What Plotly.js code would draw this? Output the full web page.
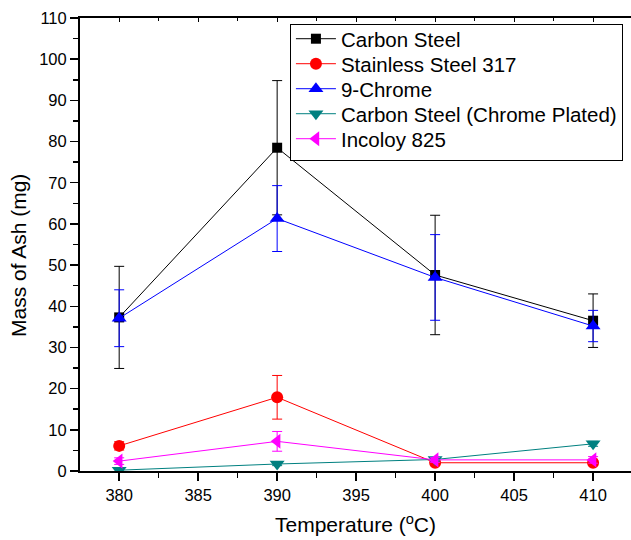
<!DOCTYPE html>
<html>
<head>
<meta charset="utf-8">
<script src="https://cdn.plot.ly/plotly-3.0.1.min.js"></script>
<style>
  html, body { margin: 0; padding: 0; background: #fff; }
  #chart { width: 631px; height: 540px; }
</style>
</head>
<body>
<div id="chart"></div>
<script>
// Ash mass collected at each test temperature, per alloy
const temperature = [380, 390, 400, 410];

const carbonSteel     = [37.3, 78.5, 47.6, 36.5];
const carbonSteelErr  = [12.4, 16.3, 14.5, 6.5];

const stainless317    = [6.1, 17.9, 2.0, 2.0];
const stainless317Err = [1.0, 5.3, 0.5, 0.5];

const nineChrome      = [37.1, 61.3, 47.0, 35.2];
const nineChromeErr   = [6.9, 8.0, 10.4, 3.8];

const chromePlated    = [0.2, 1.7, 2.8, 6.6];
const chromePlatedErr = [0.3, 0.4, 0.4, 0.6];

const incoloy825      = [2.4, 7.2, 2.7, 2.7];
const incoloy825Err   = [0.8, 2.4, 0.6, 0.8];

const seriesNames = [
  'Carbon Steel',
  'Stainless Steel 317',
  '9-Chrome',
  'Carbon Steel (Chrome Plated)',
  'Incoloy 825'
];

const xTicks = [380, 385, 390, 395, 400, 405, 410];

function series(name, y, err, color, symbol, size) {
  return {
    type: 'scatter',
    mode: 'lines+markers',
    name: name,
    x: temperature,
    y: y,
    line: { color: color, width: 1 },
    marker: { color: color, symbol: symbol, size: size },
    error_y: { type: 'data', array: err, visible: true, color: color, thickness: 1, width: 5 }
  };
}

const traces = [
  series(seriesNames[0], carbonSteel, carbonSteelErr, '#000000', 'square', 10),
  series(seriesNames[1], stainless317, stainless317Err, '#ff0000', 'circle', 12),
  series(seriesNames[2], nineChrome, nineChromeErr, '#0000ff', 'triangle-up', 13),
  series(seriesNames[3], chromePlated, chromePlatedErr, '#008080', 'triangle-down', 13),
  series(seriesNames[4], incoloy825, incoloy825Err, '#ff00ff', 'triangle-left', 13)
];

const xRange = [377.52, 412.4];

const layout = {
  width: 631,
  height: 540,
  margin: { l: 80, r: 0, t: 18, b: 69 },
  paper_bgcolor: '#ffffff',
  plot_bgcolor: '#ffffff',
  font: { family: 'Liberation Sans, Arial, sans-serif', color: '#000000' },
  showlegend: true,
  legend: {
    x: 0.381, y: 0.987, xanchor: 'left', yanchor: 'top',
    bordercolor: '#000000', borderwidth: 1,
    bgcolor: '#ffffff',
    font: { size: 20.5, color: '#000000' },
    tracegroupgap: 0,
    itemwidth: 40
  },
  xaxis: {
    range: xRange,
    tickmode: 'array',
    tickvals: xTicks,
    ticktext: xTicks.map(String),
    ticks: 'outside', ticklen: 8, tickwidth: 1.5, tickcolor: '#000',
    minor: { dtick: 2.5, tick0: 380, ticks: 'outside', ticklen: 5, tickwidth: 1.5, tickcolor: '#000' },
    showline: true, linecolor: '#000', linewidth: 2,
    showgrid: false, zeroline: false,
    tickfont: { size: 16.5 },
    title: { text: 'Temperature (<sup>o</sup>C)', font: { size: 21 }, standoff: 15 }
  },
  xaxis2: {
    overlaying: 'x', side: 'top', range: xRange,
    tick0: 380, dtick: 5,
    ticks: 'inside', ticklen: 4, tickwidth: 1, tickcolor: '#000',
    minor: { dtick: 2.5, tick0: 380, ticks: 'inside', ticklen: 3, tickwidth: 1, tickcolor: '#000' },
    showticklabels: false,
    showline: true, linecolor: '#000', linewidth: 2,
    showgrid: false, zeroline: false
  },
  yaxis: {
    range: [0, 110],
    tick0: 0, dtick: 10,
    ticks: 'outside', ticklen: 8, tickwidth: 1.5, tickcolor: '#000',
    minor: { dtick: 5, tick0: 0, ticks: 'outside', ticklen: 5, tickwidth: 1.5, tickcolor: '#000' },
    showline: true, linecolor: '#000', linewidth: 2,
    showgrid: false, zeroline: false,
    tickfont: { size: 16.5 }
  },
  annotations: [{
    text: 'Mass of Ash (mg)',
    xref: 'paper', yref: 'paper',
    x: -0.1125, y: 0.4746,
    xanchor: 'center', yanchor: 'middle',
    textangle: -90, showarrow: false,
    font: { size: 21, color: '#000000' }
  }]
};

// A hidden trace anchors the top mirror axis
traces.push({ type: 'scatter', x: [xRange[0]], y: [0], xaxis: 'x2', mode: 'markers',
  marker: { opacity: 0 }, showlegend: false, hoverinfo: 'skip' });

// Tighter legend rows than Plotly's default line height
const legendRowPitch = 25;

Plotly.newPlot('chart', traces, layout, { displayModeBar: false, staticPlot: true }).then(gd => {
  const items = gd.querySelectorAll('.legend .traces');
  if (!items.length) return;
  const parse = g => {
    const m = /translate\(\s*([-\d.e]+)[ ,]+([-\d.e]+)\s*\)/.exec(g.getAttribute('transform') || '');
    return m ? [parseFloat(m[1]), parseFloat(m[2])] : [0, 0];
  };
  const first = parse(items[0]);
  const lastOld = parse(items[items.length - 1])[1];
  const topShift = -6;
  items.forEach((g, i) => {
    const p = parse(g);
    g.setAttribute('transform', `translate(${p[0]},${first[1] + topShift + i * legendRowPitch})`);
  });
  const lastNew = first[1] + topShift + (items.length - 1) * legendRowPitch;
  const shrink = lastOld - lastNew - 1;
  gd.querySelectorAll('.legend .bg').forEach(bg => {
    const h = parseFloat(bg.getAttribute('height'));
    bg.setAttribute('height', h - shrink);
  });
});
</script>
</body>
</html>
